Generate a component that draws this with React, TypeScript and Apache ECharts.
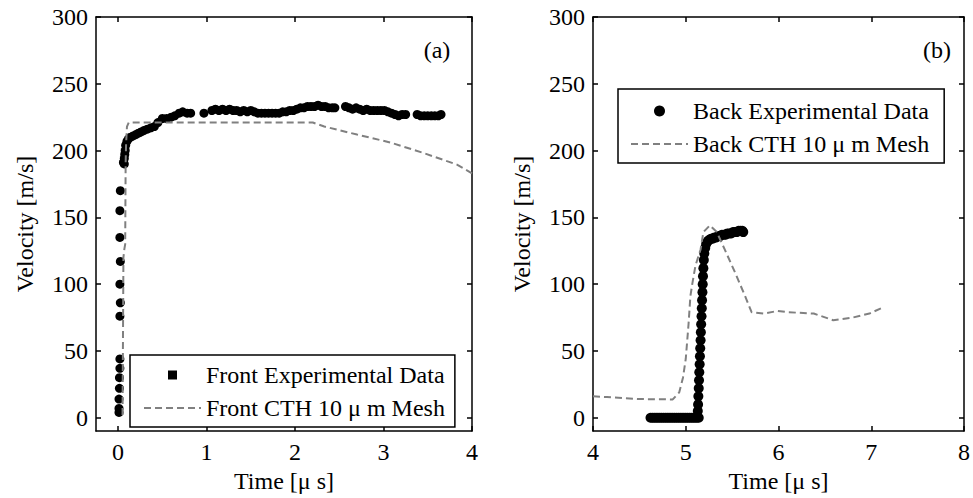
import React, { useEffect, useRef } from 'react';
import * as echarts from 'echarts';

const FONT = "'Liberation Serif', 'Times New Roman', Times, serif";

const leftXTicks = [0, 1, 2, 3, 4];
const rightXTicks = [4, 5, 6, 7, 8];
const yTicks = [0, 50, 100, 150, 200, 250, 300];

const frontExpName = 'Front Experimental Data';
const frontCthName = 'Front CTH 10 μ m Mesh';
const backExpName = 'Back Experimental Data';
const backCthName = 'Back CTH 10 μ m Mesh';

const frontExperimental: number[][] = [
  [0.01, 4], [0.01, 7], [0.01, 14], [0.015, 22], [0.015, 30], [0.02, 37], [0.02, 44],
  [0.02, 76], [0.025, 86], [0.02, 100], [0.025, 117], [0.02, 135], [0.02, 155], [0.025, 170],
  [0.07, 190], [0.06, 191], [0.07, 194], [0.075, 197], [0.08, 200], [0.085, 204],
  [0.1, 207], [0.12, 209], [0.14, 210], [0.17, 211], [0.2, 212], [0.23, 213], [0.26, 214],
  [0.29, 215], [0.33, 216], [0.37, 217], [0.41, 218], [0.45, 221], [0.5, 224], [0.55, 224],
  [0.6, 225], [0.64, 226], [0.69, 228], [0.73, 229], [0.78, 228], [0.82, 228], [0.97, 228],
  [1.06, 230], [1.1, 231], [1.14, 230], [1.18, 231], [1.22, 230], [1.26, 231], [1.3, 230],
  [1.34, 230], [1.38, 229], [1.42, 230], [1.46, 229], [1.5, 230], [1.54, 229], [1.58, 228],
  [1.62, 228], [1.66, 228], [1.7, 228], [1.74, 228], [1.78, 228], [1.82, 228], [1.86, 229],
  [1.9, 229], [1.94, 230], [1.98, 230], [2.02, 231], [2.06, 232], [2.1, 232], [2.14, 233],
  [2.18, 233], [2.22, 233], [2.26, 234], [2.3, 233], [2.34, 233], [2.38, 232], [2.42, 232],
  [2.45, 232], [2.57, 233], [2.61, 232], [2.65, 231], [2.69, 232], [2.73, 231], [2.77, 230],
  [2.81, 231], [2.85, 230], [2.89, 230], [2.93, 230], [2.97, 230], [3.01, 230], [3.05, 229],
  [3.09, 228], [3.13, 227], [3.17, 226], [3.21, 227], [3.25, 227], [3.38, 227], [3.42, 226],
  [3.46, 226], [3.5, 226], [3.54, 226], [3.58, 226], [3.62, 226], [3.65, 227],
];

const frontCTH: number[][] = [
  [0.05, 2], [0.055, 60], [0.06, 120], [0.07, 126], [0.08, 130], [0.085, 190], [0.09, 205],
  [0.1, 218], [0.12, 221], [2.2, 221], [2.33, 218], [2.7, 212], [3.08, 206], [3.46, 198],
  [3.83, 189.5], [4.0, 183],
];

const backExperimental: number[][] = [
  [4.62, 0], [4.64, 0], [4.66, 0], [4.68, 0], [4.7, 0], [4.72, 0], [4.74, 0], [4.76, 0],
  [4.78, 0], [4.8, 0], [4.82, 0], [4.84, 0], [4.86, 0], [4.88, 0], [4.9, 0], [4.92, 0],
  [4.94, 0], [4.96, 0], [4.98, 0], [5.0, 0], [5.02, 0], [5.04, 0], [5.06, 0], [5.08, 0],
  [5.1, 0], [5.12, 0], [5.14, 0],
  [5.13, 5], [5.133, 10], [5.136, 16], [5.14, 22], [5.143, 28], [5.146, 34], [5.15, 40],
  [5.153, 46], [5.156, 52], [5.16, 58], [5.163, 64], [5.166, 70], [5.17, 76], [5.173, 82],
  [5.176, 88], [5.18, 94], [5.183, 100], [5.186, 106], [5.19, 112], [5.195, 118], [5.2, 123],
  [5.21, 127], [5.22, 130], [5.235, 132], [5.25, 133], [5.27, 134], [5.29, 134], [5.31, 135],
  [5.33, 135], [5.35, 136], [5.37, 136], [5.39, 137], [5.41, 137], [5.43, 137], [5.45, 138],
  [5.47, 138], [5.49, 138], [5.51, 139], [5.53, 139], [5.55, 139], [5.57, 140], [5.59, 140],
  [5.61, 140], [5.62, 139],
];

const backCTH: number[][] = [
  [4.0, 16], [4.15, 15.5], [4.5, 14], [4.86, 13.7], [4.93, 19], [4.97, 30], [5.0, 44],
  [5.03, 70], [5.05, 91], [5.07, 100], [5.105, 114], [5.16, 126], [5.19, 139], [5.26, 144],
  [5.335, 139], [5.42, 126], [5.53, 109], [5.64, 91], [5.71, 79], [5.85, 78], [5.99, 80],
  [6.1, 79], [6.38, 78], [6.59, 73], [6.8, 75], [6.98, 78], [7.14, 83],
];

const BLACK = '#000';
const GRAY = '#808080';
const lineStyle = { color: BLACK, width: 1.5 };
const textBase = { fontFamily: FONT, fontSize: 24, color: BLACK };

function xAxes(gridIndex: number, min: number, max: number, ticks: number[]) {
  return [
    {
      type: 'value', gridIndex, min, max, position: 'bottom',
      name: 'Time [μ s]', nameLocation: 'middle', nameGap: 37,
      nameTextStyle: { ...textBase },
      axisLine: { show: true, onZero: false, lineStyle },
      axisTick: { show: true, inside: true, length: 5, customValues: ticks, lineStyle },
      axisLabel: { show: true, customValues: ticks, margin: 9, ...textBase },
      splitLine: { show: false },
    },
    {
      type: 'value', gridIndex, min, max, position: 'top',
      axisLine: { show: true, onZero: false, lineStyle },
      axisTick: { show: true, inside: true, length: 5, customValues: ticks, lineStyle },
      axisLabel: { show: false },
      splitLine: { show: false },
    },
  ];
}

function yAxes(gridIndex: number) {
  return [
    {
      type: 'value', gridIndex, min: -10, max: 300, position: 'left',
      name: 'Velocity [m/s]', nameLocation: 'middle', nameGap: 59, nameRotate: 90,
      nameTextStyle: { ...textBase },
      axisLine: { show: true, onZero: false, lineStyle },
      axisTick: { show: true, inside: true, length: 5, customValues: yTicks, lineStyle },
      axisLabel: { show: true, customValues: yTicks, margin: 8, ...textBase },
      splitLine: { show: false },
    },
    {
      type: 'value', gridIndex, min: -10, max: 300, position: 'right',
      axisLine: { show: true, onZero: false, lineStyle },
      axisTick: { show: true, inside: true, length: 5, customValues: yTicks, lineStyle },
      axisLabel: { show: false },
      splitLine: { show: false },
    },
  ];
}

export default function App() {
  const ref = useRef<HTMLDivElement>(null);
  useEffect(() => {
    const chart = echarts.init(ref.current!, null, { renderer: 'svg' });
    const option: any = {
      animation: false,
      backgroundColor: '#fff',
      grid: [
        { left: 96, top: 17, width: 376, height: 416, containLabel: false },
        { left: 593, top: 17, width: 376, height: 416, containLabel: false },
      ],
      xAxis: [...xAxes(0, -0.25, 4, leftXTicks), ...xAxes(1, 4, 8, rightXTicks)],
      yAxis: [...yAxes(0), ...yAxes(1)],
      legend: [
        {
          orient: 'vertical', left: 130, top: 355, selectedMode: false,
          data: [
            { name: frontExpName, icon: 'path://M0 0H1V1H0Z', itemStyle: { color: BLACK, opacity: 1 } },
            { name: frontCthName, itemStyle: { opacity: 0 } },
          ],
          itemWidth: 57, itemHeight: 9, itemGap: 7,
          padding: [7, 10, 6, 13],
          borderColor: BLACK, borderWidth: 1.5, backgroundColor: '#fff',
          textStyle: { ...textBase, lineHeight: 26 },
        },
        {
          orient: 'vertical', left: 618, top: 89, selectedMode: false,
          data: [
            { name: backExpName, icon: 'circle', itemStyle: { color: BLACK, opacity: 1 } },
            { name: backCthName, itemStyle: { opacity: 0 } },
          ],
          itemWidth: 57, itemHeight: 11, itemGap: 7,
          padding: [9, 15, 6, 12],
          borderColor: BLACK, borderWidth: 1.5, backgroundColor: '#fff',
          textStyle: { ...textBase, lineHeight: 26 },
        },
      ],
      graphic: [
        { type: 'text', x: 437, y: 50, style: { text: '(a)', fontFamily: FONT, fontSize: 24, fill: BLACK, align: 'center', verticalAlign: 'middle' } },
        { type: 'text', x: 937, y: 50, style: { text: '(b)', fontFamily: FONT, fontSize: 24, fill: BLACK, align: 'center', verticalAlign: 'middle' } },
      ],
      series: [
        {
          name: frontExpName, type: 'scatter', xAxisIndex: 0, yAxisIndex: 0,
          data: frontExperimental, symbol: 'circle', symbolSize: 9, silent: true,
          itemStyle: { color: BLACK, opacity: 1 },
        },
        {
          name: frontCthName, type: 'line', xAxisIndex: 0, yAxisIndex: 0,
          data: frontCTH, symbol: 'none', showSymbol: false, silent: true,
          lineStyle: { color: GRAY, width: 2, type: [7, 4] },
          itemStyle: { color: GRAY },
        },
        {
          name: backExpName, type: 'scatter', xAxisIndex: 2, yAxisIndex: 2,
          data: backExperimental, symbol: 'circle', symbolSize: 10, silent: true,
          itemStyle: { color: BLACK, opacity: 1 },
        },
        {
          name: backCthName, type: 'line', xAxisIndex: 2, yAxisIndex: 2,
          data: backCTH, symbol: 'none', showSymbol: false, silent: true,
          lineStyle: { color: GRAY, width: 2, type: [7, 4] },
          itemStyle: { color: GRAY },
        },
      ],
    };
    chart.setOption(option);
    return () => chart.dispose();
  }, []);
  return (
    <div
      ref={ref}
      style={{ position: 'fixed', left: 0, top: 0, width: 973, height: 498, background: '#fff' }}
    />
  );
}
